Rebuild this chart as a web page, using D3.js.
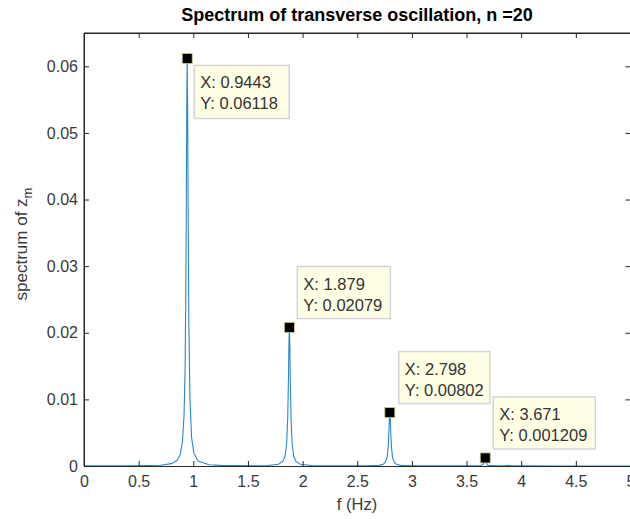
<!DOCTYPE html>
<html><head><meta charset="utf-8">
<script src="https://cdn.jsdelivr.net/npm/d3@7"></script>
<style>body{margin:0;background:#fff;} svg{display:block;font-family:"Liberation Sans",Arial,sans-serif;}</style>
</head><body>
<script>
const freq = [0, 0.2, 0.4, 0.6, 0.7, 0.8, 0.85, 0.88, 0.9, 0.915, 0.925, 0.9323, 0.9363, 0.9403, 0.9443, 0.9483, 0.9523, 0.9593, 0.9693, 0.9843, 1.0043, 1.0443, 1.1443, 1.25, 1.4, 1.55, 1.679, 1.779, 1.819, 1.839, 1.854, 1.864, 1.871, 1.875, 1.879, 1.883, 1.887, 1.894, 1.904, 1.919, 1.939, 1.979, 2.079, 2.2, 2.4, 2.6, 2.698, 2.738, 2.758, 2.773, 2.783, 2.79, 2.794, 2.798, 2.802, 2.806, 2.813, 2.823, 2.838, 2.858, 2.898, 3.0, 3.2, 3.4, 3.571, 3.631, 3.651, 3.661, 3.667, 3.671, 3.675, 3.681, 3.691, 3.711, 3.771, 3.85, 3.88, 3.91, 4.0, 4.3, 4.6, 5.0];
const spectrum = [0.00002, 0.00003, 0.00003, 0.00007, 0.00012, 0.00035, 0.00082, 0.0017, 0.0035, 0.0075, 0.0146, 0.0279, 0.0398, 0.054, 0.06118, 0.054, 0.0398, 0.0214, 0.0099, 0.0043, 0.002, 0.00073, 0.00019, 0.00009, 0.00005, 0.00004, 0.00008, 0.00026, 0.00068, 0.00146, 0.00337, 0.00727, 0.0136, 0.0184, 0.02079, 0.0184, 0.0136, 0.00727, 0.00337, 0.00146, 0.00068, 0.00026, 0.00007, 0.00004, 0.00003, 0.00003, 0.0001, 0.00026, 0.00056, 0.0013, 0.0028, 0.00525, 0.0071, 0.00802, 0.0071, 0.00525, 0.0028, 0.0013, 0.00056, 0.00026, 0.0001, 0.00004, 0.00002, 0.00002, 0.00002, 0.00008, 0.00028, 0.0005, 0.0009, 0.001209, 0.0009, 0.0005, 0.00016, 0.00005, 0.00002, 0.00004, 0.00012, 0.00004, 0.00002, 0.00001, 0.00001, 0.00001];
const tipX = [0.9443, 1.879, 2.798, 3.671];
const tipY = [0.06118, 0.02079, 0.00802, 0.001209];
const tipXLabel = ["0.9443", "1.879", "2.798", "3.671"];
const tipYLabel = ["0.06118", "0.02079", "0.00802", "0.001209"];
const xTicks = [0, 0.5, 1, 1.5, 2, 2.5, 3, 3.5, 4, 4.5, 5];
const yTicks = [0, 0.01, 0.02, 0.03, 0.04, 0.05, 0.06];

const W = 630, H = 519;
const L = 84, R = 630.5, T = 33, B = 466;
const svg = d3.select("body").append("svg").attr("width", W).attr("height", H);
const x = d3.scaleLinear().domain([0, 5]).range([L, R]);
const y = d3.scaleLinear().domain([0, 0.065]).range([B, T]);
const axisColor = "#262626";
const labelColor = "#3a3a3a";

// line
const data = freq.map((f, i) => [f, spectrum[i]]);
svg.append("path").datum(data)
  .attr("fill", "none").attr("stroke", "#2a86cf").attr("stroke-width", 1.1)
  .attr("d", d3.line().x(d => x(d[0])).y(d => y(d[1])));

// axes
function styleAxis(g) {
  g.selectAll(".domain").attr("stroke", axisColor);
  g.selectAll(".tick line").attr("stroke", axisColor);
  g.selectAll(".tick text").attr("fill", labelColor).attr("font-size", "16px");
}
const fmt = d => String(d);
svg.append("g").attr("transform", `translate(0,${B})`)
  .call(d3.axisBottom(x).tickValues(xTicks).tickFormat(fmt).tickSizeInner(-5).tickSizeOuter(0).tickPadding(10))
  .call(styleAxis);
svg.append("g").attr("transform", `translate(0,${T})`)
  .call(d3.axisTop(x).tickValues(xTicks).tickFormat("").tickSizeInner(-5).tickSizeOuter(0))
  .call(styleAxis);
svg.append("g").attr("transform", `translate(${L},0)`)
  .call(d3.axisLeft(y).tickValues(yTicks).tickFormat(fmt).tickSizeInner(-5).tickSizeOuter(0).tickPadding(6))
  .call(styleAxis);
svg.append("g").attr("transform", `translate(${R},0)`)
  .call(d3.axisRight(y).tickValues(yTicks).tickFormat("").tickSizeInner(-5).tickSizeOuter(0))
  .call(styleAxis);
svg.append("line").attr("x1", L).attr("x2", R).attr("y1", T).attr("y2", T).attr("stroke", axisColor);
svg.append("line").attr("x1", L).attr("x2", L).attr("y1", T).attr("y2", B).attr("stroke", axisColor);

// title & labels
svg.append("text").attr("x", 357).attr("y", 21).attr("text-anchor", "middle")
  .attr("font-size", "18px").attr("font-weight", "bold").attr("fill", "#000")
  .text("Spectrum of transverse oscillation, n =20");
svg.append("text").attr("x", 357).attr("y", 510).attr("text-anchor", "middle")
  .attr("font-size", "16.5px").attr("fill", labelColor).text("f (Hz)");
const yl = svg.append("text").attr("transform", "translate(27,244) rotate(-90)")
  .attr("text-anchor", "middle").attr("font-size", "17px").attr("fill", labelColor);
yl.append("tspan").text("spectrum of z");
yl.append("tspan").attr("dy", 5).attr("font-size", "13px").text("m");

// data tips
const boxes = [
  {dx: 7, dy: 7, w: 95, h: 53},
  {dx: 8, dy: -61, w: 93, h: 52},
  {dx: 9, dy: -61, w: 91, h: 52},
  {dx: 8, dy: -61, w: 102, h: 52}
];
tipX.forEach((fx, i) => {
  const cx = x(fx), cy = y(tipY[i]);
  const b = boxes[i];
  const g = svg.append("g");
  g.append("rect").attr("x", cx + b.dx).attr("y", cy + b.dy).attr("width", b.w).attr("height", b.h)
    .attr("fill", "#ffffe6").attr("stroke", "#d4d4d4").attr("stroke-width", 1.5);
  g.append("text").attr("x", cx + b.dx + 6).attr("y", cy + b.dy + 23)
    .attr("font-size", "16.5px").attr("fill", "#333").text("X: " + tipXLabel[i]);
  g.append("text").attr("x", cx + b.dx + 6).attr("y", cy + b.dy + 44)
    .attr("font-size", "16.5px").attr("fill", "#333").text("Y: " + tipYLabel[i]);
  svg.append("rect").attr("x", cx - 5).attr("y", cy - 5).attr("width", 10).attr("height", 10)
    .attr("fill", "#000").attr("stroke", "#c8c890").attr("stroke-width", 0.8);
});
</script>
</body></html>
